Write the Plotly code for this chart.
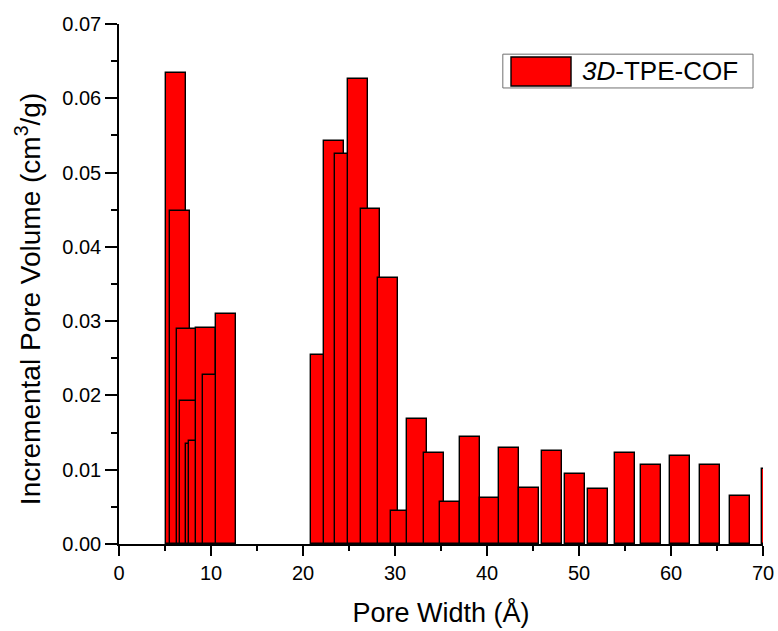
import plotly.graph_objects as go

# Pore size distribution (DFT), incremental pore volume per pore-width bin
series_name = "<i>3D</i>-TPE-COF"
pore_width = [6.20, 6.63, 7.36, 7.72, 8.37, 8.73, 9.46, 10.25, 11.62,
              21.96, 23.40, 24.50, 25.95, 27.34, 29.20, 30.60, 32.40, 34.20,
              36.00, 38.15, 40.30, 42.40, 44.60, 47.07, 49.60, 52.10, 55.00,
              57.80, 61.00, 64.25, 67.50, 71.02]
pore_volume = [0.0634, 0.0448, 0.0289, 0.0192, 0.0134, 0.0138, 0.0291, 0.0228, 0.0309,
               0.0254, 0.0543, 0.0525, 0.0626, 0.0451, 0.0358, 0.0044, 0.0168, 0.0122,
               0.0057, 0.0144, 0.0062, 0.0129, 0.0076, 0.0125, 0.0094, 0.0074, 0.0123,
               0.0107, 0.0118, 0.0107, 0.0065, 0.0101]
x_ticks = [0, 10, 20, 30, 40, 50, 60, 70]
y_ticks = [0.00, 0.01, 0.02, 0.03, 0.04, 0.05, 0.06, 0.07]
x_title = "Pore Width (Å)"
y_title = "Incremental Pore Volume (cm<sup>3</sup>/g)"

FONT = "Liberation Sans, Arial, sans-serif"
BAR_W = 2.15

fig = go.Figure()
fig.add_trace(go.Bar(
    x=pore_width, y=pore_volume, width=[BAR_W] * len(pore_width),
    marker=dict(color="#ff0000", line=dict(color="black", width=1.4)),
    name=series_name, showlegend=False,
))

fig.update_layout(
    width=778, height=631,
    margin=dict(l=119, r=15, t=24, b=87),
    paper_bgcolor="white", plot_bgcolor="white",
    font=dict(family=FONT, color="black"),
    bargap=0,
)
fig.update_xaxes(
    range=[0, 70], tickvals=x_ticks, ticktext=[str(v) for v in x_ticks],
    automargin=False,
    showline=True, linecolor="black", linewidth=1.5, mirror=False,
    ticks="outside", ticklen=10, tickwidth=1.5, tickcolor="black",
    minor=dict(dtick=5, ticks="outside", ticklen=5, tickwidth=1.5, tickcolor="black"),
    showgrid=False, zeroline=False,
    tickfont=dict(size=20, family=FONT),
    title=dict(text=x_title, font=dict(size=27, family=FONT), standoff=20),
)
fig.update_yaxes(
    range=[0, 0.07], tickvals=y_ticks, ticktext=[f"{v:.2f}" for v in y_ticks],
    automargin=False,
    showline=True, linecolor="black", linewidth=1.5, mirror=False,
    ticks="outside", ticklen=12, tickwidth=1.5, tickcolor="black",
    minor=dict(dtick=0.005, tick0=0, ticks="outside", ticklen=6, tickwidth=1.5, tickcolor="black"),
    showgrid=False, zeroline=False,
    tickfont=dict(size=20, family=FONT),
)

# Vertical axis title, placed slightly below the plot's vertical centre
fig.add_annotation(xref="paper", yref="paper", x=-0.142, y=0.470,
                   xanchor="center", yanchor="middle", showarrow=False,
                   textangle=-90, text=y_title,
                   font=dict(size=28, family=FONT, color="black"))

# Legend box drawn by hand so the swatch can be large
fig.add_shape(type="rect", xref="paper", yref="paper",
              x0=0.596, x1=0.9845, y0=0.877, y1=0.942,
              line=dict(color="#707070", width=1), fillcolor="white")
fig.add_shape(type="rect", xref="paper", yref="paper",
              x0=0.6087, x1=0.7019, y0=0.8808, y1=0.9365,
              line=dict(color="black", width=1.4), fillcolor="#ff0000")
fig.add_annotation(xref="paper", yref="paper", x=0.7158, y=0.9096,
                   xanchor="left", yanchor="middle", showarrow=False,
                   text=series_name, font=dict(size=26, family=FONT, color="black"))

fig.write_html("out.html")
